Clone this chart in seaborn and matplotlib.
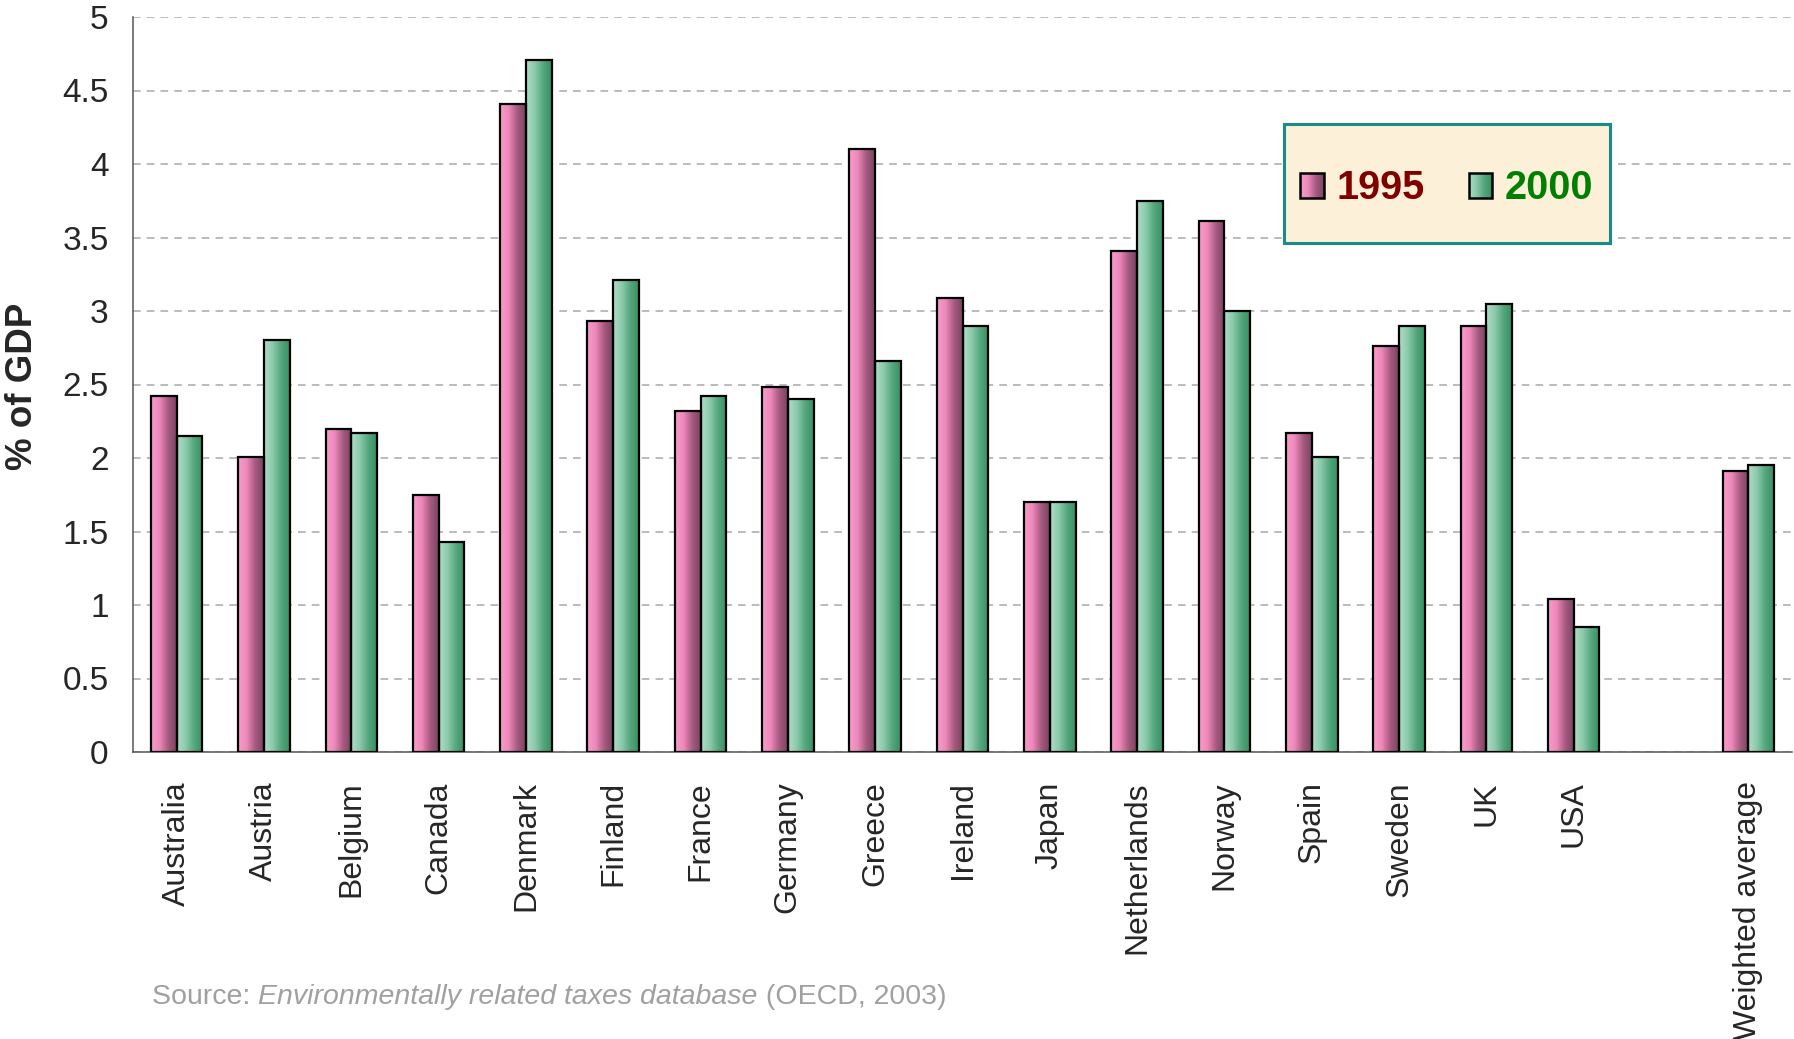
import numpy as np
import pandas as pd
import matplotlib
matplotlib.use("Agg")
import matplotlib.pyplot as plt
import seaborn as sns
from matplotlib.colors import LinearSegmentedColormap
from matplotlib.patches import Rectangle, Patch
from matplotlib.legend_handler import HandlerBase
from matplotlib import font_manager

# ---------------- data ----------------
countries = ["Australia", "Austria", "Belgium", "Canada", "Denmark", "Finland",
             "France", "Germany", "Greece", "Ireland", "Japan", "Netherlands",
             "Norway", "Spain", "Sweden", "UK", "USA", "", "Weighted average"]
v1995 = [2.42, 2.01, 2.20, 1.75, 4.41, 2.93, 2.32, 2.48, 4.10, 3.09, 1.70, 3.41,
         3.61, 2.17, 2.76, 2.90, 1.04, np.nan, 1.91]
v2000 = [2.15, 2.80, 2.17, 1.43, 4.71, 3.21, 2.42, 2.40, 2.66, 2.90, 1.70, 3.75,
         3.00, 2.01, 2.90, 3.05, 0.85, np.nan, 1.95]
years = ["1995", "2000"]
ytick_vals = [0, 0.5, 1, 1.5, 2, 2.5, 3, 3.5, 4, 4.5, 5]
ytick_labels = ["0", "0.5", "1", "1.5", "2", "2.5", "3", "3.5", "4", "4.5", "5"]
ylabel = "% of GDP"
source_parts = ["Source: ", "Environmentally related taxes database", " (OECD, 2003)"]

rows = []
for c, a, b in zip(countries, v1995, v2000):
    if np.isfinite(a):
        rows.append({"country": c, "year": years[0], "value": a})
    if np.isfinite(b):
        rows.append({"country": c, "year": years[1], "value": b})
df = pd.DataFrame(rows)

# ---------------- style ----------------
sns.set_style("white")
names = {f.name for f in font_manager.fontManager.ttflist}
NARROW = "Liberation Sans Narrow" if "Liberation Sans Narrow" in names else "Liberation Sans"
narrow_ok = NARROW == "Liberation Sans Narrow"
plt.rcParams["font.family"] = ["Liberation Sans", "DejaVu Sans"]

W, H = 1794, 1039
fig = plt.figure(figsize=(W / 100, H / 100), dpi=100)
ax = fig.add_axes([133 / W, 1 - 752 / H, 1659 / W, (752 - 17) / H])

palette = {"1995": "#d0709c", "2000": "#62b088"}
sns.barplot(data=df, x="country", y="value", hue="year", order=countries,
            hue_order=years, palette=palette, width=0.59, ax=ax,
            legend=False, errorbar=None, saturation=1)

pink = LinearSegmentedColormap.from_list("pk", ["#f99ccc", "#ee88bb", "#a65a80", "#7a4460"])
green = LinearSegmentedColormap.from_list("gr", ["#b0dcc8", "#8ccbac", "#54a67e", "#37905f"])
grad = np.linspace(0, 1, 256).reshape(1, -1)

for p in list(ax.patches):
    h = p.get_height()
    if not np.isfinite(h) or h <= 0:
        continue
    x0, w = p.get_x(), p.get_width()
    fc = p.get_facecolor()
    cmap = pink if fc[0] > fc[1] else green
    ax.imshow(grad, extent=[x0, x0 + w, 0, h], aspect="auto", cmap=cmap,
              zorder=2, interpolation="bilinear")
    p.set_facecolor("none")
    p.set_edgecolor("black")
    p.set_linewidth(1.6)
    p.set_zorder(3)

ax.set_xlim(-0.5, len(countries) - 0.5)
ax.set_ylim(0, 5)

# grid
ax.yaxis.grid(True, linestyle=(0, (5, 4)), color="#a8a8a8", linewidth=1.1)
ax.xaxis.grid(False)
ax.set_axisbelow(True)

# spines
for s in ["top", "right"]:
    ax.spines[s].set_visible(False)
for s in ["left", "bottom"]:
    ax.spines[s].set_color("#555555")
    ax.spines[s].set_linewidth(1.1)

# x ticks
ax.set_xticks(range(len(countries)))
ax.set_xticklabels(countries, rotation=90, va="top", ha="center",
                   fontsize=23, family=["Liberation Sans", "DejaVu Sans"])
ax.set_xticks(np.arange(-0.5, len(countries), 1), minor=True)
ax.tick_params(axis="x", which="major", length=0, pad=21)
ax.tick_params(axis="x", which="minor", length=7, width=1.1, color="#555555")

# y ticks
ax.set_yticks(ytick_vals)
ax.set_yticklabels(ytick_labels, fontsize=27 if narrow_ok else 24,
                   family=[NARROW, "DejaVu Sans"])
ax.tick_params(axis="y", which="major", length=6.5, width=1.1, color="#555555", pad=11)
ax.set_xlabel("")
ax.set_ylabel("")

fig.text(23 / W, 1 - 386 / H, ylabel, rotation=90, ha="center", va="center",
         fontsize=26.5, fontweight="bold", family=["Liberation Sans", "DejaVu Sans"])

# legend box
ax.add_patch(Rectangle((0.694, 0.692), 0.196, 0.162, transform=ax.transAxes,
                       facecolor="#fdf0d8", edgecolor="#1b8a8a", linewidth=2.2,
                       zorder=5))


class GradHandler(HandlerBase):
    def __init__(self, cmap):
        super().__init__()
        self.cmap = cmap

    def create_artists(self, legend, orig_handle, xdescent, ydescent, width,
                       height, fontsize, trans):
        arts = []
        n = 24
        for i in range(n):
            arts.append(Rectangle((-xdescent + width * i / n, -ydescent),
                                  width / n * 1.1, height,
                                  facecolor=self.cmap((i + 0.5) / n),
                                  edgecolor="none", transform=trans))
        arts.append(Rectangle((-xdescent, -ydescent), width, height,
                              facecolor="none", edgecolor="black", lw=1.8,
                              transform=trans))
        return arts


h1 = Patch(facecolor=palette["1995"])
h2 = Patch(facecolor=palette["2000"])
leg = ax.legend([h1, h2], years, ncol=2, loc="center",
                bbox_to_anchor=(0.792, 0.767), frameon=False,
                prop={"family": "Liberation Sans", "weight": "bold", "size": 28.5},
                handlelength=0.59, handleheight=0.59, handletextpad=0.33,
                columnspacing=1.1, labelcolor=["#800000", "#008000"],
                handler_map={h1: GradHandler(pink), h2: GradHandler(green)})
leg.set_zorder(6)

# source line
fig.canvas.draw()
renderer = fig.canvas.get_renderer()
x = 152 / W
ys = 1 - 997 / H
styles = ["normal", "italic", "normal"]
for part, st in zip(source_parts, styles):
    t = fig.text(x, ys, part, ha="left", va="center", color="#a0a0a0",
                 fontsize=22 if narrow_ok else 20.5, style=st,
                 family=[NARROW, "DejaVu Sans"])
    bb = t.get_window_extent(renderer=renderer)
    x = bb.x1 / (W)

fig.savefig("out.png", dpi=100)
